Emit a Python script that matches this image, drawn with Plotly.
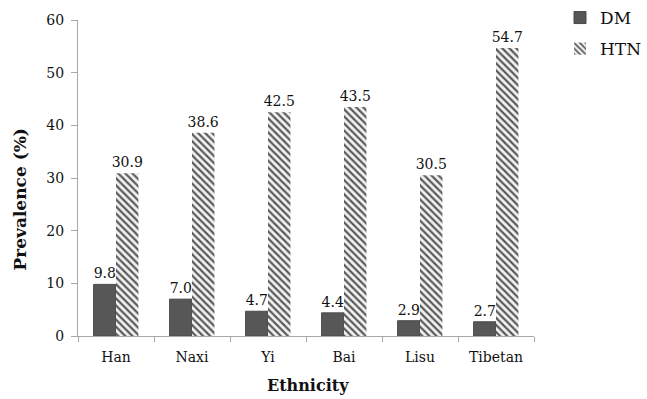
import plotly.graph_objects as go

ethnicities = ["Han", "Naxi", "Yi", "Bai", "Lisu", "Tibetan"]
dm_values = [9.8, 7.0, 4.7, 4.4, 2.9, 2.7]
htn_values = [30.9, 38.6, 42.5, 43.5, 30.5, 54.7]

serif = "DejaVu Serif"
ink = "#111"

fig = go.Figure()
fig.add_trace(go.Bar(
    name="DM", x=ethnicities, y=dm_values,
    marker=dict(color="#575757", line=dict(color="#4a4a4a", width=1)),
    text=[f"{v:.1f}" for v in dm_values], textposition="outside",
    constraintext="none",
    textfont=dict(family=serif, size=14, color=ink),
    cliponaxis=False, legendgroup="dm",
))
fig.add_trace(go.Bar(
    name="HTN", x=ethnicities, y=htn_values,
    marker=dict(color="#e6e6e6", line=dict(width=0),
                pattern=dict(shape="\\", fgcolor="#5a5a5a", bgcolor="#f2f2f2",
                             size=5, solidity=0.45)),
    text=[f"{v:.1f}" for v in htn_values], textposition="outside",
    constraintext="none",
    textfont=dict(family=serif, size=14, color=ink),
    cliponaxis=False, legendgroup="htn",
))

fig.update_layout(
    template="none",
    width=647, height=399,
    margin=dict(l=78, r=101, t=0, b=63),
    paper_bgcolor="white", plot_bgcolor="white",
    barmode="group", bargap=0.41, bargroupgap=0,
    font=dict(family=serif, size=14, color=ink),
    showlegend=True,
    legend=dict(x=1.058, y=1.0, xanchor="left", yanchor="top",
                font=dict(family=serif, size=17, color=ink),
                traceorder="grouped", tracegroupgap=6, itemwidth=30,
                bgcolor="rgba(0,0,0,0)"),
    xaxis=dict(
        automargin=False, showgrid=False,
        showline=True, linecolor="#a8a8a8", linewidth=1,
        ticks="outside", tickson="boundaries", ticklen=5, tickcolor="#a8a8a8",
        ticklabelstandoff=8,
        tickfont=dict(family=serif, size=14, color=ink),
    ),
    yaxis=dict(
        automargin=False, domain=[0, 1 - 20 / 336],
        range=[0, 60], dtick=10, showgrid=False, zeroline=False,
        showline=True, linecolor="#a8a8a8", linewidth=1,
        ticks="outside", ticklen=6, tickcolor="#a8a8a8",
        ticklabelstandoff=4,
        tickfont=dict(family=serif, size=14, color=ink),
    ),
    annotations=[
        dict(text="<b>Prevalence (%)</b>", xref="paper", yref="paper",
             x=(18 - 78) / 468, y=1 - 200 / 336, xanchor="center", yanchor="middle",
             textangle=-90, showarrow=False,
             font=dict(family=serif, size=17, color=ink)),
        dict(text="<b>Ethnicity</b>", xref="paper", yref="paper",
             x=(314 - 78) / 468, y=1 - 385 / 336, xanchor="center", yanchor="middle",
             showarrow=False,
             font=dict(family=serif, size=16, color=ink)),
    ],
)

fig.write_html("out.html")
